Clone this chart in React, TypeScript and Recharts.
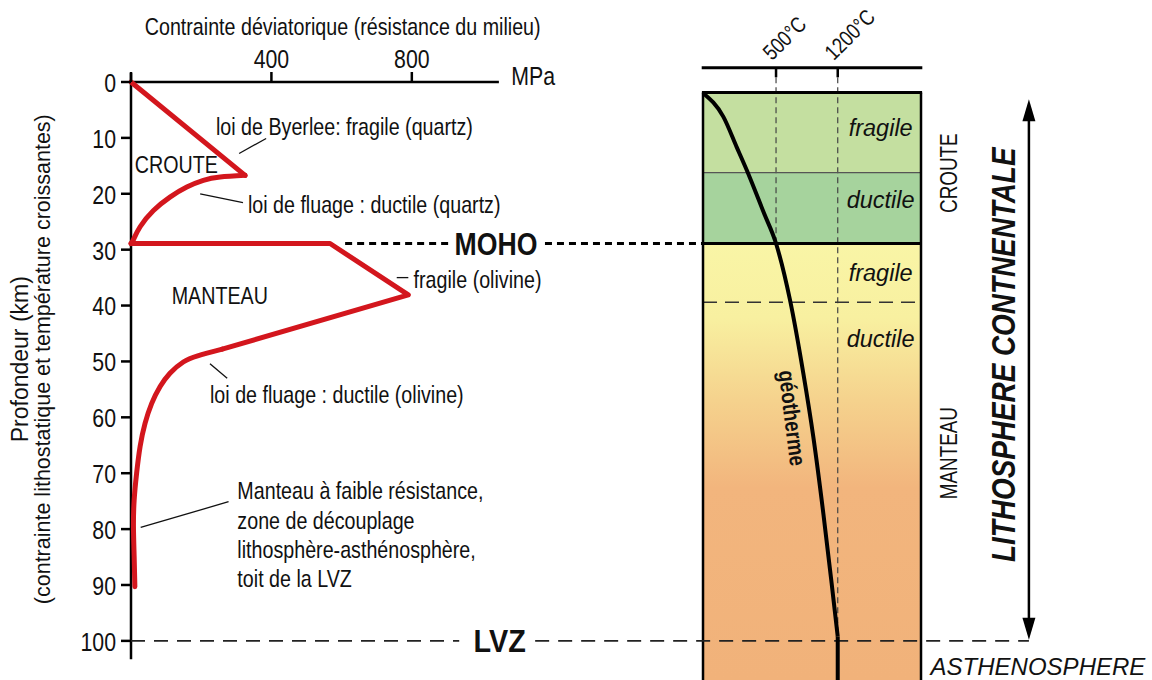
import {
  ComposedChart,
  Line,
  ReferenceArea,
  ReferenceDot,
  ReferenceLine,
  XAxis,
  YAxis,
} from "recharts";

// Liberation Sans squeezed horizontally stands in for Arial Narrow
const FONT = '"Liberation Sans", Arial, sans-serif';
const NARROW_X = 0.82;

// depth axis (km) and stress axis (MPa)
const depthTicks = [0, 10, 20, 30, 40, 50, 60, 70, 80, 90, 100];
const mpaTicks = [0, 400, 800];

// strength envelope (MPa / km)
const crustBrittle = [
  { mpa: 0, depth: 0 },
  { mpa: 325, depth: 16.7 },
];
const crustDuctile = [
  { mpa: 325, depth: 16.7 },
  { mpa: 254, depth: 17.0 },
  { mpa: 206, depth: 17.6 },
  { mpa: 159, depth: 18.8 },
  { mpa: 111, depth: 20.6 },
  { mpa: 64, depth: 23.0 },
  { mpa: 26, depth: 25.9 },
  { mpa: 7, depth: 28.2 },
  { mpa: 0, depth: 28.9 },
];
const mantleBrittle = [
  { mpa: 0, depth: 28.9 },
  { mpa: 567, depth: 28.9 },
  { mpa: 790, depth: 38.1 },
  { mpa: 260, depth: 47.8 },
];
const mantleDuctile = [
  { mpa: 260, depth: 47.8 },
  { mpa: 190, depth: 49.0 },
  { mpa: 149, depth: 50.1 },
  { mpa: 111, depth: 52.1 },
  { mpa: 83, depth: 54.5 },
  { mpa: 59, depth: 57.5 },
  { mpa: 40, depth: 61.1 },
  { mpa: 26, depth: 65.2 },
  { mpa: 16, depth: 70.0 },
  { mpa: 9, depth: 74.8 },
  { mpa: 7, depth: 79.6 },
  { mpa: 9, depth: 84.9 },
  { mpa: 11, depth: 90.3 },
];

// geotherm, horizontal position across the column (0 = left edge, 100 = right edge)
const geotherm = [
  { col: 0.1, depth: 2.0 },
  { col: 9.3, depth: 6.2 },
  { col: 15.4, depth: 11.6 },
  { col: 20.0, depth: 15.7 },
  { col: 28.0, depth: 23.5 },
  { col: 33.5, depth: 28.9 },
  { col: 39.9, depth: 39.0 },
  { col: 46.0, depth: 52.1 },
  { col: 50.6, depth: 63.5 },
  { col: 55.2, depth: 77.2 },
  { col: 59.0, depth: 89.7 },
  { col: 61.8, depth: 99.2 },
];
const geothermTail = [
  { col: 61.8, depth: 99.2 },
  { col: 61.8, depth: 107 },
];

const isoLabels = ["500°C", "1200°C"];
const isoCol = [33.5, 61.8];
const isoEnd = [28.9, 99.2];

const columnTop = 1.9;
const crustSplit = 16.2;
const moho = 28.9;
const mantleSplit = 39.4;
const lvz = 100;
const bottom = 107;

const layerNames = ["fragile", "ductile", "fragile", "ductile"];
const layerLabelDepth = [8.3, 21.1, 34.2, 46.0];

type Note = {
  text: string[];
  axis: "mpa" | "col";
  x: number;
  y: number;
  size: number;
  anchor?: "start" | "middle" | "end";
  bold?: boolean;
  italic?: boolean;
  angle?: number;
  sx?: number;
  lh?: number;
};

const notes: Note[] = [
  { text: ["Contrainte déviatorique (résistance du milieu)"], axis: "mpa", x: 603, y: -10.0, size: 24, anchor: "middle" },
  { text: ["MPa"], axis: "mpa", x: 1083, y: -1.2, size: 26 },
  { text: ["Profondeur (km)"], axis: "mpa", x: -317, y: 49.6, size: 23, anchor: "middle", angle: -90, sx: 1 },
  { text: ["(contrainte lithostatique et température croissantes)"], axis: "mpa", x: -251, y: 49.6, size: 21.5, anchor: "middle", angle: -90, sx: 1 },
  { text: ["loi de Byerlee: fragile (quartz)"], axis: "mpa", x: 242, y: 7.9, size: 24 },
  { text: ["CROUTE"], axis: "mpa", x: 11, y: 14.8, size: 24 },
  { text: ["loi de fluage : ductile (quartz)"], axis: "mpa", x: 333, y: 21.8, size: 24 },
  { text: ["MOHO"], axis: "mpa", x: 1040, y: 29, size: 31, anchor: "middle", bold: true, sx: 0.86 },
  { text: ["fragile (olivine)"], axis: "mpa", x: 805, y: 35.3, size: 24 },
  { text: ["MANTEAU"], axis: "mpa", x: 116, y: 38.1, size: 24 },
  { text: ["loi de fluage : ductile (olivine)"], axis: "mpa", x: 225, y: 55.9, size: 24 },
  {
    text: [
      "Manteau à faible résistance,",
      "zone de découplage",
      "lithosphère-asthénosphère,",
      "toit de la LVZ",
    ],
    axis: "mpa",
    x: 303,
    y: 73.1,
    size: 24,
    lh: 29.3,
  },
  { text: ["LVZ"], axis: "mpa", x: 1050, y: 100, size: 32, anchor: "middle", bold: true, sx: 0.9 },
  { text: ["CROUTE"], axis: "col", x: 112.4, y: 16.3, size: 23, anchor: "middle", angle: -90 },
  { text: ["MANTEAU"], axis: "col", x: 112.4, y: 66.4, size: 23, anchor: "middle", angle: -90 },
  { text: ["LITHOSPHERE CONTNENTALE"], axis: "col", x: 137.6, y: 48.8, size: 34, anchor: "middle", angle: -90, bold: true, italic: true },
  { text: ["ASTHENOSPHERE"], axis: "col", x: 104.4, y: 104.5, size: 24, italic: true, sx: 1 },
  { text: ["géotherme"], axis: "col", x: 41.3, y: 60.1, size: 23, anchor: "middle", angle: 83, bold: true },
];

// leader lines (mpa, depth)
const leaders = [
  [308, 12.8, 385, 10.1],
  [197, 20.0, 319, 21.6],
  [757, 35.0, 790, 35.0],
  [225, 50.4, 274, 53.0],
  [27.6, 79.7, 278, 75.1],
];

function renderText(n: Note, cx: number, cy: number, baseline = "central") {
  const lh = n.lh ?? n.size * 1.2;
  const sx = n.sx ?? NARROW_X;
  return (
    <text
      x={0}
      y={0}
      textAnchor={n.anchor ?? "start"}
      dominantBaseline={baseline}
      fontSize={n.size}
      fontWeight={n.bold ? "bold" : "normal"}
      fontStyle={n.italic ? "italic" : "normal"}
      fontFamily={FONT}
      fill="#111"
      transform={`translate(${cx} ${cy}) rotate(${n.angle ?? 0}) scale(${sx} 1)`}
    >
      {n.text.map((t, i) => (
        <tspan key={i} x={0} dy={i === 0 ? 0 : lh}>
          {t}
        </tspan>
      ))}
    </text>
  );
}

const xTick = (p: any) =>
  p.payload.value === 0
    ? <g />
    : renderText({ text: [String(p.payload.value)], axis: "mpa", x: 0, y: 0, size: 26, anchor: "middle" }, p.x, p.y - 1, "alphabetic");

const yTick = (p: any) =>
  renderText({ text: [String(p.payload.value)], axis: "mpa", x: 0, y: 0, size: 26, anchor: "end" }, p.x, p.y);

const mantleFill = (p: any) => (
  <g>
    <defs>
      <linearGradient id="mantleGrad" x1="0" y1="0" x2="0" y2="1">
        <stop offset="0" stopColor="#f9f5a6" />
        <stop offset="0.17" stopColor="#f8f0a0" />
        <stop offset="0.36" stopColor="#f5d28d" />
        <stop offset="0.56" stopColor="#f2b57d" />
        <stop offset="1" stopColor="#f1b27a" />
      </linearGradient>
    </defs>
    <rect x={p.x} y={p.y} width={p.width} height={p.height} fill="url(#mantleGrad)" />
  </g>
);

const arrowHead = (dir: 1 | -1) => (p: any) =>
  (
    <polygon
      points={`${p.cx},${p.cy} ${p.cx - 6.5},${p.cy + dir * 22} ${p.cx + 6.5},${p.cy + dir * 22}`}
      fill="#000"
    />
  );

const RED = "#d3161d";

export default function App() {
  return (
    <div
      style={{
        position: "absolute",
        left: 0,
        top: 0,
        width: 1152,
        height: 680,
        background: "#fff",
        fontFamily: FONT,
      }}
    >
      <ComposedChart width={1152} height={680} margin={{ top: 52, right: 122, bottom: 0, left: 71 }}>
        <XAxis
          xAxisId="mpa"
          type="number"
          dataKey="mpa"
          orientation="top"
          domain={[0, 2561]}
          ticks={mpaTicks}
          interval={0}
          height={30}
          axisLine={false}
          tickSize={10}
          tickMargin={3}
          tickLine={{ stroke: "#000", strokeWidth: 2.5 }}
          tick={xTick}
        />
        <XAxis xAxisId="col" type="number" dataKey="col" domain={[-262.4, 150]} hide />
        <YAxis
          yAxisId="d"
          type="number"
          domain={[0, bottom]}
          reversed
          ticks={depthTicks}
          interval={0}
          width={60}
          axisLine={false}
          tickSize={10}
          tickMargin={5}
          tickLine={{ stroke: "#000", strokeWidth: 2.5 }}
          tick={yTick}
        />

        {/* column layers */}
        <ReferenceArea xAxisId="col" yAxisId="d" x1={0} x2={100} y1={columnTop} y2={crustSplit} fill="#c4dfa0" fillOpacity={1} ifOverflow="visible" />
        <ReferenceArea xAxisId="col" yAxisId="d" x1={0} x2={100} y1={crustSplit} y2={moho} fill="#a6d39d" fillOpacity={1} ifOverflow="visible" />
        <ReferenceArea xAxisId="col" yAxisId="d" x1={0} x2={100} y1={moho} y2={bottom} ifOverflow="visible" shape={mantleFill} />

        {/* axes drawn as segments */}
        <ReferenceLine xAxisId="mpa" yAxisId="d" segment={[{ x: 0, y: 0 }, { x: 1048, y: 0 }]} stroke="#000" strokeWidth={2.5} ifOverflow="visible" />
        <ReferenceLine xAxisId="mpa" yAxisId="d" segment={[{ x: 0, y: -1.6 }, { x: 0, y: 103.3 }]} stroke="#000" strokeWidth={2.5} ifOverflow="visible" />
        <ReferenceLine xAxisId="col" yAxisId="d" segment={[{ x: -0.6, y: -2.56 }, { x: 100.6, y: -2.56 }]} stroke="#000" strokeWidth={3} ifOverflow="visible" />

        {/* isotherms */}
        {isoCol.map((c, i) => (
          <ReferenceLine key={`it${i}`} xAxisId="col" yAxisId="d" segment={[{ x: c, y: -2.56 }, { x: c, y: -0.84 }]} stroke="#000" strokeWidth={2.5} ifOverflow="visible" />
        ))}
        {isoCol.map((c, i) => (
          <ReferenceLine key={`id${i}`} xAxisId="col" yAxisId="d" segment={[{ x: c, y: -0.84 }, { x: c, y: isoEnd[i] }]} stroke="#444" strokeWidth={1.2} strokeDasharray="6 4" ifOverflow="visible" />
        ))}

        {/* column outline and boundaries */}
        <ReferenceLine xAxisId="col" yAxisId="d" segment={[{ x: 0, y: crustSplit }, { x: 100, y: crustSplit }]} stroke="#555" strokeWidth={1.2} ifOverflow="visible" />
        <ReferenceLine xAxisId="col" yAxisId="d" segment={[{ x: 0, y: mantleSplit }, { x: 100, y: mantleSplit }]} stroke="#333" strokeWidth={1.6} strokeDasharray="14 8" ifOverflow="visible" />
        <ReferenceLine xAxisId="col" yAxisId="d" segment={[{ x: 0, y: moho }, { x: 100, y: moho }]} stroke="#000" strokeWidth={3} ifOverflow="visible" />
        <ReferenceLine xAxisId="col" yAxisId="d" segment={[{ x: -0.5, y: columnTop }, { x: 100.5, y: columnTop }]} stroke="#000" strokeWidth={3} ifOverflow="visible" />
        <ReferenceLine xAxisId="col" yAxisId="d" segment={[{ x: 0, y: columnTop }, { x: 0, y: bottom + 1 }]} stroke="#000" strokeWidth={2.5} ifOverflow="visible" />
        <ReferenceLine xAxisId="col" yAxisId="d" segment={[{ x: 100, y: columnTop }, { x: 100, y: bottom + 1 }]} stroke="#000" strokeWidth={2.5} ifOverflow="visible" />

        {/* MOHO and LVZ dashed lines */}
        <ReferenceLine xAxisId="mpa" yAxisId="d" segment={[{ x: 610, y: moho }, { x: 905, y: moho }]} stroke="#000" strokeWidth={3} strokeDasharray="7 5" ifOverflow="visible" />
        <ReferenceLine xAxisId="col" yAxisId="d" segment={[{ x: -72.5, y: moho }, { x: 0, y: moho }]} stroke="#000" strokeWidth={3} strokeDasharray="7 5" ifOverflow="visible" />
        <ReferenceLine xAxisId="mpa" yAxisId="d" segment={[{ x: 0, y: lvz }, { x: 935, y: lvz }]} stroke="#222" strokeWidth={1.8} strokeDasharray="14 9" ifOverflow="visible" />
        <ReferenceLine xAxisId="col" yAxisId="d" segment={[{ x: -77, y: lvz }, { x: 149.5, y: lvz }]} stroke="#222" strokeWidth={1.8} strokeDasharray="14 9" ifOverflow="visible" />

        {/* leader lines */}
        {leaders.map((l, i) => (
          <ReferenceLine key={`l${i}`} xAxisId="mpa" yAxisId="d" segment={[{ x: l[0], y: l[1] }, { x: l[2], y: l[3] }]} stroke="#111" strokeWidth={1.3} ifOverflow="visible" />
        ))}

        {/* lithosphere arrow */}
        <ReferenceLine xAxisId="col" yAxisId="d" segment={[{ x: 149.5, y: 6 }, { x: 149.5, y: 97 }]} stroke="#000" strokeWidth={2.5} ifOverflow="visible" />
        <ReferenceDot xAxisId="col" yAxisId="d" x={149.5} y={3.1} r={0} ifOverflow="visible" shape={arrowHead(1)} />
        <ReferenceDot xAxisId="col" yAxisId="d" x={149.5} y={99.8} r={0} ifOverflow="visible" shape={arrowHead(-1)} />

        <Line xAxisId="mpa" yAxisId="d" data={crustBrittle} dataKey="depth" type="linear" stroke={RED} strokeWidth={5} strokeLinejoin="round" strokeLinecap="round" dot={false} activeDot={false} isAnimationActive={false} />
        <Line xAxisId="mpa" yAxisId="d" data={crustDuctile} dataKey="depth" type="natural" stroke={RED} strokeWidth={5} strokeLinejoin="round" strokeLinecap="round" dot={false} activeDot={false} isAnimationActive={false} />
        <Line xAxisId="mpa" yAxisId="d" data={mantleBrittle} dataKey="depth" type="linear" stroke={RED} strokeWidth={5} strokeLinejoin="round" strokeLinecap="round" dot={false} activeDot={false} isAnimationActive={false} />
        <Line xAxisId="mpa" yAxisId="d" data={mantleDuctile} dataKey="depth" type="natural" stroke={RED} strokeWidth={5} strokeLinejoin="round" strokeLinecap="round" dot={false} activeDot={false} isAnimationActive={false} />
        <Line xAxisId="col" yAxisId="d" data={geotherm} dataKey="depth" type="monotone" stroke="#000" strokeWidth={4} dot={false} activeDot={false} isAnimationActive={false} />
        <Line xAxisId="col" yAxisId="d" data={geothermTail} dataKey="depth" type="linear" stroke="#000" strokeWidth={4} dot={false} activeDot={false} isAnimationActive={false} />

        {/* isotherm labels */}
        {isoLabels.map((t, i) => (
          <ReferenceDot
            key={`il${i}`}
            xAxisId="col"
            yAxisId="d"
            x={isoCol[i] - 1.8}
            y={-3.7}
            r={0}
            ifOverflow="visible"
            shape={(p: any) => renderText({ text: [t], axis: "col", x: 0, y: 0, size: 22, angle: -45 }, p.cx, p.cy, "alphabetic")}
          />
        ))}

        {/* layer labels */}
        {layerNames.map((t, i) => (
          <ReferenceDot
            key={`ly${i}`}
            xAxisId="col"
            yAxisId="d"
            x={81.5}
            y={layerLabelDepth[i]}
            r={0}
            ifOverflow="visible"
            shape={(p: any) =>
              renderText({ text: [t], axis: "col", x: 0, y: 0, size: 23.5, anchor: "middle", italic: true, sx: 1 }, p.cx, p.cy)
            }
          />
        ))}

        {notes.map((n, i) => (
          <ReferenceDot
            key={`n${i}`}
            xAxisId={n.axis}
            yAxisId="d"
            x={n.x}
            y={n.y}
            r={0}
            ifOverflow="visible"
            shape={(p: any) => renderText(n, p.cx, p.cy)}
          />
        ))}
      </ComposedChart>
    </div>
  );
}
